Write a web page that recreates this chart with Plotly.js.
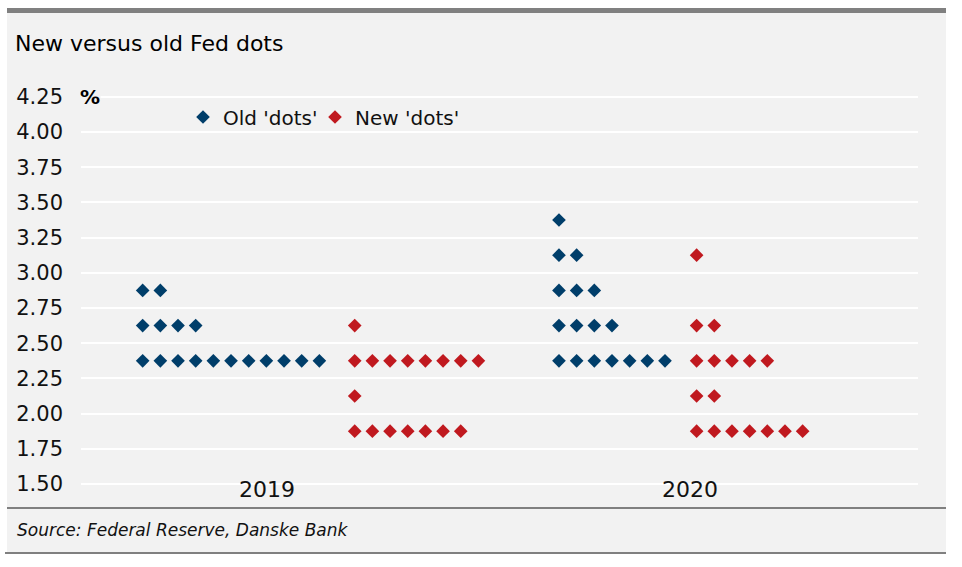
<!DOCTYPE html>
<html>
<head>
<meta charset="utf-8">
<script src="https://cdn.plot.ly/plotly-3.0.1.min.js"></script>
<style>html,body{margin:0;padding:0;background:#fff;}#chart{width:962px;height:567px;}</style>
</head>
<body>
<div id="chart"></div>
<script>
// ---- data ----
const years = ['2019', '2020'];
const rates = [3.375, 3.125, 2.875, 2.625, 2.375, 2.125, 1.875];
const old2019 = [0, 0, 2, 4, 11, 0, 0];
const new2019 = [0, 0, 0, 1, 8, 1, 7];
const old2020 = [1, 2, 3, 4, 7, 0, 0];
const new2020 = [0, 1, 0, 2, 5, 2, 7];
const seriesNames = ["Old 'dots'", "New 'dots'"];
const yTicks = [1.50, 1.75, 2.00, 2.25, 2.50, 2.75, 3.00, 3.25, 3.50, 3.75, 4.00, 4.25];

// ---- layout helpers (slot units on x axis) ----
const L = 81, R = 918, T = 90, B = 490, W = 962, H = 567;
const groupStart = {old2019: 3.49, new2019: 15.49, old2020: 27.05, new2020: 34.84};
const yearPos = [10.53, 34.47];
const px = v => (v - L) / (R - L);
const py = v => (B - v) / (B - T);

function expand(counts, start) {
  const xs = [], ys = [];
  counts.forEach((n, k) => { for (let i = 0; i < n; i++) { xs.push(start + i); ys.push(rates[k]); } });
  return {xs, ys};
}
const o19 = expand(old2019, groupStart.old2019), o20 = expand(old2020, groupStart.old2020);
const n19 = expand(new2019, groupStart.new2019), n20 = expand(new2020, groupStart.new2020);

const blue = '#003e6a', red = '#c0191f';
const traces = [
  {x: o19.xs.concat(o20.xs), y: o19.ys.concat(o20.ys), name: seriesNames[0], type: 'scatter', mode: 'markers',
   legend: 'legend', marker: {symbol: 'diamond', size: 10.5, color: blue}},
  {x: n19.xs.concat(n20.xs), y: n19.ys.concat(n20.ys), name: seriesNames[1], type: 'scatter', mode: 'markers',
   legend: 'legend2', marker: {symbol: 'diamond', size: 10.5, color: red}}
];

const font = 'DejaVu Sans, sans-serif';
const legendBase = {orientation: 'h', xanchor: 'left', y: py(117), yanchor: 'middle',
  bgcolor: 'rgba(0,0,0,0)', font: {family: font, size: 20, color: '#111'}, itemwidth: 30};
const layout = {
  width: W, height: H,
  margin: {l: L, r: W - R, t: T, b: H - B, pad: 0},
  paper_bgcolor: '#ffffff',
  plot_bgcolor: '#f2f2f2',
  font: {family: font, color: '#111', size: 20},
  title: {text: 'New versus old Fed dots', x: 15 / W, xanchor: 'left', xref: 'container',
          y: 1 - 43 / H, yanchor: 'middle', yref: 'container',
          font: {family: font, size: 22, color: '#000'}},
  showlegend: true,
  legend: Object.assign({}, legendBase, {x: px(183)}),
  legend2: Object.assign({}, legendBase, {x: px(315)}),
  xaxis: {range: [0, (R - L) / 17.67], showgrid: false, zeroline: false, showline: false,
          tickmode: 'array', tickvals: yearPos, ticktext: years, ticks: '',
          tickfont: {family: font, size: 22, color: '#111'}, ticklabelstandoff: -16, fixedrange: true},
  yaxis: {range: [1.5 - 6 / 140.8, 1.5 - 6 / 140.8 + 400 / 140.8], showgrid: true, gridcolor: '#ffffff', gridwidth: 2,
          zeroline: false, showline: false, tickmode: 'array', tickvals: yTicks,
          ticktext: yTicks.map(v => v.toFixed(2)), ticks: '',
          tickfont: {family: font, size: 21, color: '#111'}, ticklabelstandoff: 17, fixedrange: true},
  shapes: [
    {type: 'rect', xref: 'paper', yref: 'paper', x0: px(7), x1: px(946), y0: py(13), y1: py(553),
     fillcolor: '#f2f2f2', line: {width: 0}, layer: 'below'},
    {type: 'rect', xref: 'paper', yref: 'paper', x0: px(7), x1: px(946), y0: py(8), y1: py(13),
     fillcolor: '#808080', line: {width: 0}, layer: 'below'},
    {type: 'line', xref: 'paper', yref: 'paper', x0: px(7), x1: px(946), y0: py(508), y1: py(508),
     line: {color: '#808080', width: 2}},
    {type: 'line', xref: 'paper', yref: 'paper', x0: px(5), x1: px(946), y0: py(553), y1: py(553),
     line: {color: '#808080', width: 2}}
  ],
  annotations: [
    {text: '<b>%</b>', xref: 'paper', yref: 'y', x: px(79), y: 4.25, xanchor: 'left', yanchor: 'middle',
     showarrow: false, bgcolor: '#f2f2f2', borderpad: 0, font: {family: font, size: 20, color: '#000'}},
    {text: 'Source: Federal Reserve, Danske Bank', xref: 'paper', yref: 'paper', x: px(15), y: py(530),
     xanchor: 'left', yanchor: 'middle', showarrow: false,
     font: {family: font, size: 17, color: '#111', style: 'italic'}}
  ]
};

Plotly.newPlot('chart', traces, layout, {displayModeBar: false, staticPlot: true});
</script>
</body>
</html>
